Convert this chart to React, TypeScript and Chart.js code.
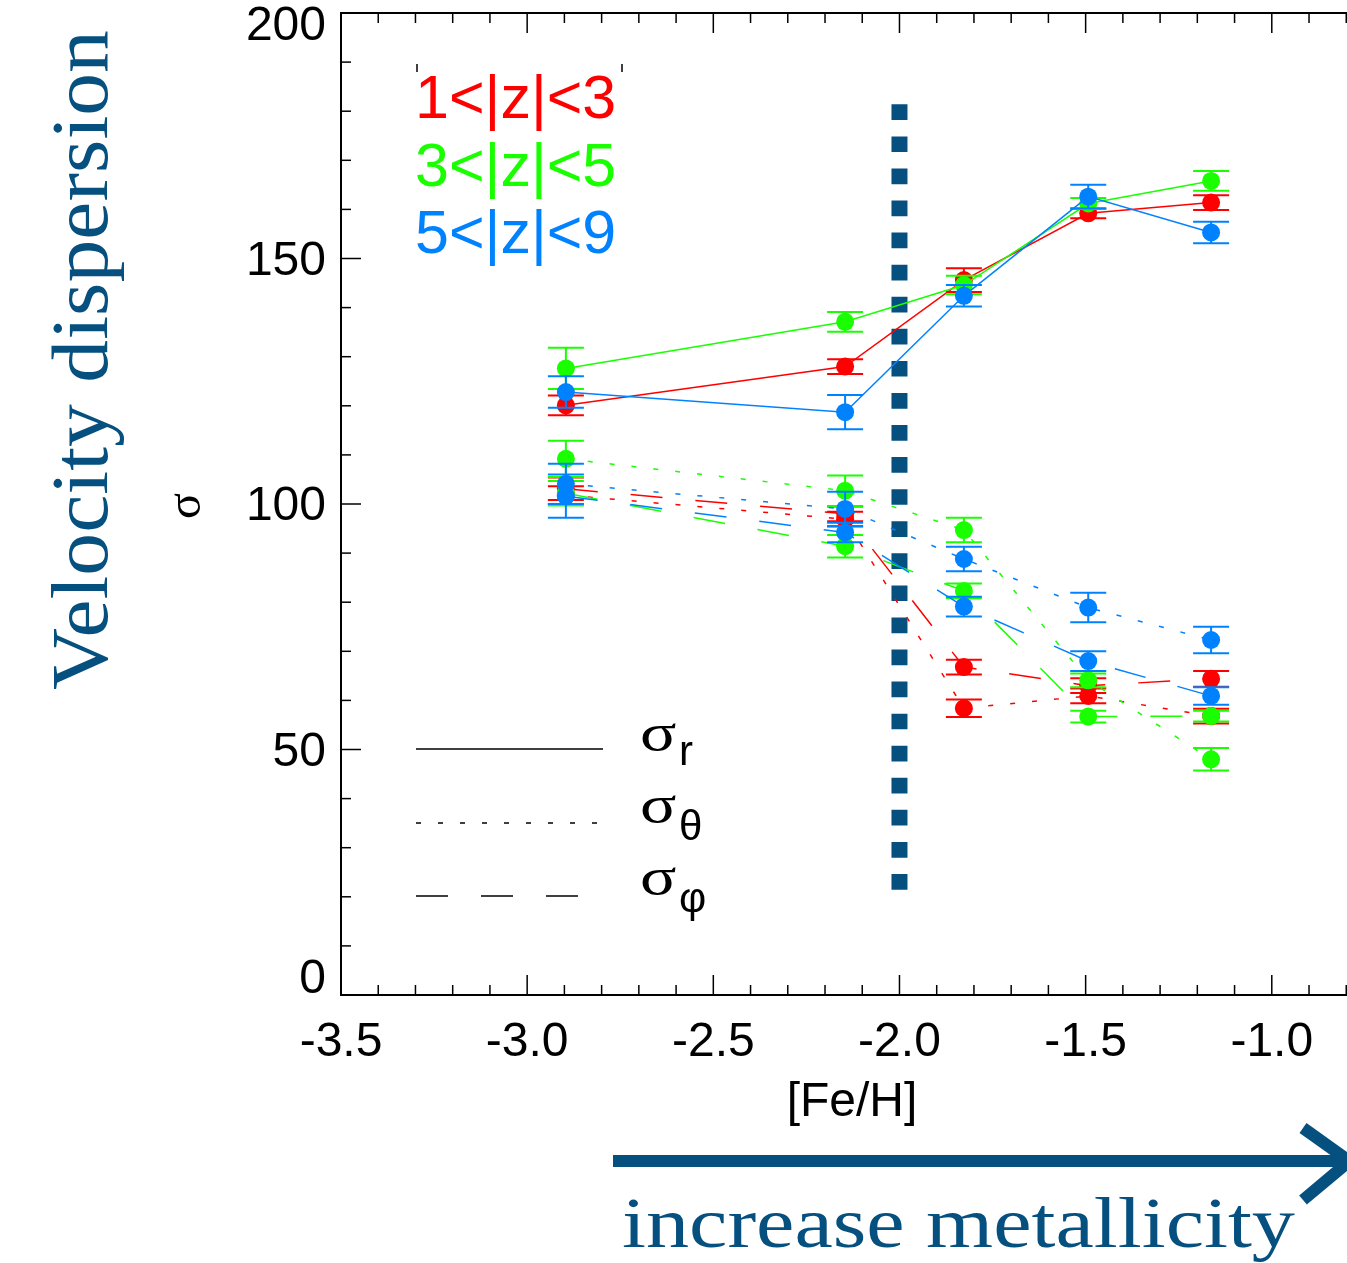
import React, { useEffect, useRef } from 'react';
import { Chart, registerables } from 'chart.js';

Chart.register(...registerables);

// ---------- data ----------
const fehBins = [-2.896, -2.146, -1.827, -1.493, -1.163];

const zoneLabels = ['1<|z|<3', '3<|z|<5', '5<|z|<9'];
const zoneColors = ['#ff0000', '#19ff00', '#0082ff'];
const componentLabels = ['r', 'θ', 'φ'];

// sigma_r
const sigmaR_1to3 = [120.1, 128.0, 145.6, 159.2, 161.4];
const sigmaR_1to3_err = [2.0, 1.5, 2.4, 1.0, 1.5];
const sigmaR_3to5 = [127.6, 137.1, 144.6, 161.2, 165.8];
const sigmaR_3to5_err = [4.2, 2.0, 1.9, 1.1, 2.0];
const sigmaR_5to9 = [122.8, 118.7, 142.4, 162.6, 155.3];
const sigmaR_5to9_err = [3.2, 3.5, 2.2, 2.4, 2.2];

// sigma_theta
const sigmaT_1to3 = [101.8, 96.9, 58.4, 60.9, 56.8];
const sigmaT_1to3_err = [1.8, 1.5, 1.8, 1.5, 1.5];
const sigmaT_3to5 = [109.2, 102.7, 94.7, 64.1, 48.0];
const sigmaT_3to5_err = [3.7, 3.1, 2.5, 1.4, 2.3];
const sigmaT_5to9 = [104.1, 99.0, 88.8, 78.9, 72.3];
const sigmaT_5to9_err = [4.1, 3.5, 2.5, 3.0, 2.7];

// sigma_phi
const sigmaP_1to3 = [103.1, 98.0, 66.8, 63.0, 64.4];
const sigmaP_1to3_err = [2.3, 1.5, 1.5, 1.5, 1.6];
const sigmaP_3to5 = [102.2, 91.4, 82.3, 56.7, 56.8];
const sigmaP_3to5_err = [2.5, 2.3, 1.5, 1.2, 1.1];
const sigmaP_5to9 = [101.6, 94.2, 79.1, 68.0, 60.9];
const sigmaP_5to9_err = [4.4, 2.0, 2.0, 2.0, 1.8];

const metalLimit = -2.0;
const metalLimitRange = [21.4, 181.4];

const xRange = [-3.5, -0.798];
const yRange = [0, 200];
const yTickLabels = [0, 50, 100, 150, 200];

const yAxisTitle = 'σ';
const xAxisTitle = '[Fe/H]';
const sideTitle = 'Velocity dispersion';
const arrowTitle = 'increase metallicity';

// ---------- styles ----------
const SANS = '"Liberation Sans", Arial, Helvetica, sans-serif';
const SERIF = '"Liberation Serif", "Times New Roman", serif';
const DARK_BLUE = '#06507f';
const componentDash: number[][] = [[], [5, 17], [32, 33]];

function buildDatasets() {
  const comps = [
    { vals: [sigmaR_1to3, sigmaR_3to5, sigmaR_5to9], errs: [sigmaR_1to3_err, sigmaR_3to5_err, sigmaR_5to9_err] },
    { vals: [sigmaT_1to3, sigmaT_3to5, sigmaT_5to9], errs: [sigmaT_1to3_err, sigmaT_3to5_err, sigmaT_5to9_err] },
    { vals: [sigmaP_1to3, sigmaP_3to5, sigmaP_5to9], errs: [sigmaP_1to3_err, sigmaP_3to5_err, sigmaP_5to9_err] },
  ];
  const ds: any[] = [];
  comps.forEach((c, ci) =>
    c.vals.forEach((v, zi) =>
      ds.push({
        label: `σ${componentLabels[ci]} ${zoneLabels[zi]}`,
        data: fehBins.map((x, i) => ({ x, y: v[i] })),
        errors: c.errs[zi],
        borderColor: zoneColors[zi],
        backgroundColor: zoneColors[zi],
        pointBackgroundColor: zoneColors[zi],
        pointBorderColor: zoneColors[zi],
        pointBorderWidth: 0,
        pointRadius: 9,
        borderWidth: 1.5,
        borderDash: componentDash[ci],
        fill: false,
        tension: 0,
        order: 3 - zi,
      })
    )
  );
  ds.push({
    label: 'metal-poor limit',
    data: [
      { x: metalLimit, y: metalLimitRange[1] },
      { x: metalLimit, y: metalLimitRange[0] },
    ],
    borderColor: DARK_BLUE,
    backgroundColor: DARK_BLUE,
    borderWidth: 16,
    borderDash: [15.7, 16.37],
    borderCapStyle: 'butt',
    pointRadius: 0,
    fill: false,
    order: 10,
  });
  return ds;
}

const errorBarPlugin = {
  id: 'errorBars',
  beforeDatasetDraw(chart: any, args: any) {
    const ds: any = chart.data.datasets[args.index];
    if (!ds.errors) return;
    const ctx = chart.ctx;
    const xs = chart.scales.x;
    const ys = chart.scales.y;
    ctx.save();
    ctx.strokeStyle = ds.borderColor;
    ctx.lineWidth = 2;
    ctx.setLineDash([]);
    ds.data.forEach((p: any, i: number) => {
      const e = ds.errors[i];
      const px = xs.getPixelForValue(p.x);
      const yT = ys.getPixelForValue(p.y + e);
      const yB = ys.getPixelForValue(p.y - e);
      ctx.beginPath();
      ctx.moveTo(px, yT);
      ctx.lineTo(px, yB);
      ctx.moveTo(px - 18, yT);
      ctx.lineTo(px + 18, yT);
      ctx.moveTo(px - 18, yB);
      ctx.lineTo(px + 18, yB);
      ctx.stroke();
    });
    ctx.restore();
  },
};

function line(ctx: CanvasRenderingContext2D, x1: number, y1: number, x2: number, y2: number) {
  ctx.beginPath();
  ctx.moveTo(x1, y1);
  ctx.lineTo(x2, y2);
  ctx.stroke();
}

const decorPlugin = {
  id: 'decor',
  afterDraw(chart: any) {
    const ctx: CanvasRenderingContext2D = chart.ctx;
    const a = chart.chartArea;
    const xs = chart.scales.x;
    const ys = chart.scales.y;
    ctx.save();
    ctx.setLineDash([]);
    ctx.strokeStyle = '#000';
    ctx.fillStyle = '#000';

    // top axis
    ctx.lineWidth = 2;
    line(ctx, a.left - 1, a.top, a.right, a.top);

    // inward ticks
    ctx.lineWidth = 1.5;
    for (let k = Math.ceil(xs.min * 10 + 1e-6); k <= Math.floor(xs.max * 10 + 1e-6); k++) {
      const px = xs.getPixelForValue(k / 10);
      const len = k % 5 === 0 ? 20 : 10;
      line(ctx, px, a.bottom, px, a.bottom - len);
      line(ctx, px, a.top, px, a.top + len);
    }
    for (let v = ys.min; v <= ys.max; v += 10) {
      const py = ys.getPixelForValue(v);
      const len = v % 50 === 0 ? 20 : 10;
      line(ctx, a.left, py, a.left + len, py);
    }

    // y tick labels
    ctx.font = `48px ${SANS}`;
    ctx.textAlign = 'right';
    ctx.textBaseline = 'middle';
    yTickLabels.forEach((v) => {
      let y = ys.getPixelForValue(v) + 3;
      if (v === ys.max) y += 11;
      if (v === ys.min) y -= 18;
      ctx.fillText(String(v), a.left - 15, y);
    });

    // x axis title
    ctx.textAlign = 'center';
    ctx.textBaseline = 'alphabetic';
    ctx.fillText(xAxisTitle, 852, 1116);

    // inner y title (sigma), rotated
    ctx.save();
    ctx.translate(200, 506);
    ctx.rotate(-Math.PI / 2);
    ctx.font = `48px ${SERIF}`;
    ctx.textAlign = 'center';
    ctx.textBaseline = 'alphabetic';
    ctx.fillText(yAxisTitle, 0, 0);
    ctx.restore();

    // side title
    ctx.save();
    ctx.translate(107, 360);
    ctx.rotate(-Math.PI / 2);
    ctx.font = `80px ${SERIF}`;
    const w1 = ctx.measureText(sideTitle).width;
    ctx.scale(660 / w1, 1);
    ctx.textAlign = 'center';
    ctx.textBaseline = 'alphabetic';
    ctx.fillStyle = DARK_BLUE;
    ctx.fillText(sideTitle, 0, 0);
    ctx.restore();

    // zone legend
    ctx.font = `61px ${SANS}`;
    ctx.textAlign = 'left';
    ctx.textBaseline = 'alphabetic';
    const zoneBase = [118, 186, 253];
    zoneLabels.forEach((t, i) => {
      ctx.fillStyle = zoneColors[i];
      ctx.fillText(t, 415, zoneBase[i]);
    });
    ctx.strokeStyle = '#000';
    ctx.lineWidth = 1.5;
    line(ctx, 417, 64, 417, 72);
    line(ctx, 622, 64, 622, 72);

    // component legend
    const compY = [749, 823, 896];
    const sigBase = [750, 822, 894];
    const subBase = [765, 840, 912];
    ctx.strokeStyle = '#000';
    ctx.fillStyle = '#000';
    ctx.lineWidth = 1.5;
    componentLabels.forEach((sub, i) => {
      ctx.setLineDash(componentDash[i]);
      line(ctx, 416, compY[i], 603, compY[i]);
      ctx.setLineDash([]);
      ctx.save();
      ctx.translate(640, sigBase[i]);
      ctx.scale(1.3, 1);
      ctx.font = `52px ${SERIF}`;
      ctx.textAlign = 'left';
      ctx.fillText('σ', 0, 0);
      ctx.restore();
      ctx.font = `42px ${SANS}`;
      ctx.textAlign = 'left';
      ctx.fillText(sub, 679, subBase[i]);
    });

    // bottom arrow
    ctx.strokeStyle = DARK_BLUE;
    ctx.fillStyle = DARK_BLUE;
    ctx.lineWidth = 12;
    ctx.lineCap = 'butt';
    line(ctx, 613, 1161, 1350, 1161);
    line(ctx, 1303, 1128, 1352, 1163);
    line(ctx, 1303, 1200, 1352, 1159);

    ctx.font = `72px ${SERIF}`;
    const w2 = ctx.measureText(arrowTitle).width;
    ctx.save();
    ctx.translate(622, 1247);
    ctx.scale(673 / w2, 1);
    ctx.textAlign = 'left';
    ctx.textBaseline = 'alphabetic';
    ctx.fillText(arrowTitle, 0, 0);
    ctx.restore();

    ctx.restore();
  },
};

export default function App() {
  const ref = useRef<HTMLCanvasElement>(null);
  useEffect(() => {
    const canvas = ref.current;
    if (!canvas) return;
    const chart = new Chart(canvas, {
      type: 'line',
      data: { datasets: buildDatasets() },
      options: {
        animation: false,
        responsive: false,
        devicePixelRatio: 1,
        layout: { autoPadding: false, padding: { left: 341, top: 13, right: 0, bottom: 168 } },
        plugins: { legend: { display: false }, tooltip: { enabled: false } },
        scales: {
          x: {
            type: 'linear',
            min: xRange[0],
            max: xRange[1],
            grid: { display: false, drawTicks: false },
            border: { display: true, color: '#000', width: 2 },
            ticks: {
              stepSize: 0.5,
              includeBounds: false,
              padding: 19,
              color: '#000',
              font: { size: 48, family: SANS },
              maxRotation: 0,
              autoSkip: false,
              callback: (v: any) => Number(v).toFixed(1),
            },
            afterFit: (s: any) => {
              s.height = 100;
              s.paddingLeft = 0;
              s.paddingRight = 0;
            },
          },
          y: {
            type: 'linear',
            min: yRange[0],
            max: yRange[1],
            grid: { display: false, drawTicks: false },
            border: { display: true, color: '#000', width: 2 },
            ticks: { display: false },
            afterFit: (s: any) => {
              s.width = 0;
              s.paddingTop = 0;
              s.paddingBottom = 0;
            },
          },
        },
      } as any,
      plugins: [errorBarPlugin, decorPlugin],
    });
    return () => chart.destroy();
  }, []);
  return (
    <div style={{ position: 'fixed', left: 0, top: 0, width: 1347, height: 1263, background: '#fff', overflow: 'hidden' }}>
      <canvas ref={ref} width={1347} height={1263} style={{ display: 'block', width: 1347, height: 1263 }} />
    </div>
  );
}
